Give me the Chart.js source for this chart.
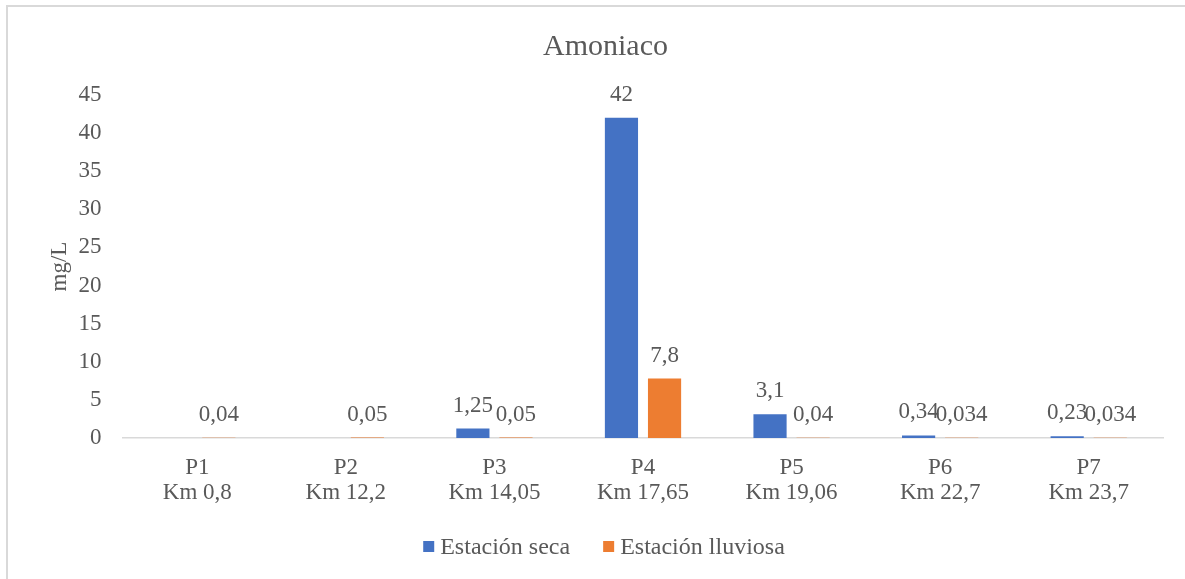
<!DOCTYPE html>
<html>
<head>
<meta charset="utf-8">
<script src="https://cdn.jsdelivr.net/npm/chart.js@4/dist/chart.umd.min.js"></script>
<style>
  html, body { margin: 0; padding: 0; background: #ffffff; }
  #frame {
    position: absolute; left: 6px; top: 5px; width: 1185px; height: 580px;
    border-left: 2px solid #d9d9d9; border-top: 2px solid #d9d9d9; box-sizing: border-box;
  }
  #wrap { position: absolute; left: 0; top: 0; width: 1185px; height: 579px; }
</style>
</head>
<body>
<div id="frame"></div>
<div id="wrap"><canvas id="chart"></canvas></div>
<script>
// Sampling points along the river (two-line axis labels)
const puntos = [
  ['P1', 'Km 0,8'],
  ['P2', 'Km 12,2'],
  ['P3', 'Km 14,05'],
  ['P4', 'Km 17,65'],
  ['P5', 'Km 19,06'],
  ['P6', 'Km 22,7'],
  ['P7', 'Km 23,7']
];
// Ammonia concentration, mg/L
const estacionSeca     = [null, null, 1.25, 42, 3.1, 0.34, 0.23];
const estacionLluviosa = [0.04, 0.05, 0.05, 7.8, 0.04, 0.034, 0.034];
const ticksY = [0, 5, 10, 15, 20, 25, 30, 35, 40, 45];

const FONT = 'Liberation Serif, Times New Roman, serif';
const GRIS = '#595959';
Chart.defaults.font.family = FONT;
Chart.defaults.color = GRIS;

// Value labels above each bar, decimal comma
const etiquetas = {
  id: 'etiquetas',
  afterDatasetsDraw(chart) {
    const ctx = chart.ctx;
    ctx.save();
    ctx.font = '23px ' + FONT;
    ctx.fillStyle = GRIS;
    ctx.textAlign = 'center';
    ctx.textBaseline = 'middle';
    chart.data.datasets.forEach((ds, i) => {
      const meta = chart.getDatasetMeta(i);
      meta.data.forEach((bar, j) => {
        const v = ds.data[j];
        if (v === null || v === undefined) return;
        ctx.fillText(String(v).replace('.', ','), bar.x, bar.y - 23);
      });
    });
    ctx.restore();
  }
};

// Compact legend under the axis: small square swatch, tight gap before the text
const leyenda = {
  id: 'leyenda',
  afterDraw(chart) {
    const ctx = chart.ctx;
    ctx.save();
    ctx.font = '24px ' + FONT;
    const caja = 11, hueco = 6, entre = 33;
    const items = chart.data.datasets.map(ds => ({
      text: ds.label, color: ds.backgroundColor, w: ctx.measureText(ds.label).width
    }));
    const total = items.reduce((s, it) => s + caja + hueco + it.w, 0) + entre * (items.length - 1);
    let x = 604 - total / 2;
    const base = 554;
    items.forEach(it => {
      ctx.fillStyle = it.color;
      ctx.fillRect(x, base - 13, caja, caja);
      x += caja + hueco;
      ctx.fillStyle = GRIS;
      ctx.textAlign = 'left';
      ctx.textBaseline = 'alphabetic';
      ctx.fillText(it.text, x, base);
      x += it.w + entre;
    });
    ctx.restore();
  }
};

const IZQ = 48;   // left layout padding
new Chart(document.getElementById('chart'), {
  type: 'bar',
  data: {
    labels: puntos,
    datasets: [
      { label: 'Estación seca', data: estacionSeca, backgroundColor: '#4472C4',
        categoryPercentage: 0.58, barPercentage: 0.77 },
      { label: 'Estación lluviosa', data: estacionLluviosa, backgroundColor: '#ED7D31',
        categoryPercentage: 0.58, barPercentage: 0.77 }
    ]
  },
  options: {
    responsive: true,
    maintainAspectRatio: false,
    animation: false,
    layout: { padding: { left: IZQ, right: 22, top: 29, bottom: 54.5 } },
    plugins: {
      title: {
        display: true, text: 'Amoniaco', color: GRIS,
        font: { family: FONT, size: 30, weight: 'normal', lineHeight: 1.2 },
        padding: { top: 0, bottom: 30 }
      },
      legend: { display: false },
      tooltip: { enabled: false }
    },
    scales: {
      x: {
        grid: { display: false },
        border: { display: true, color: '#d9d9d9', width: 1.5 },
        ticks: { color: GRIS, font: { family: FONT, size: 23, lineHeight: 1.087 }, padding: 9.5, maxRotation: 0 },
        afterFit(scale) { scale.height = 86.5; }
      },
      y: {
        min: 0, max: 45,
        afterBuildTicks(scale) { scale.ticks = ticksY.map(v => ({ value: v })); },
        afterFit(scale) { scale.width = 123 - IZQ; },
        grid: { display: false },
        border: { display: false },
        title: { display: true, text: 'mg/L', color: GRIS, font: { family: FONT, size: 23, lineHeight: 1 }, padding: 0 },
        ticks: { color: GRIS, font: { family: FONT, size: 23 }, padding: 13.5 }
      }
    }
  },
  plugins: [etiquetas, leyenda]
});
</script>
</body>
</html>
